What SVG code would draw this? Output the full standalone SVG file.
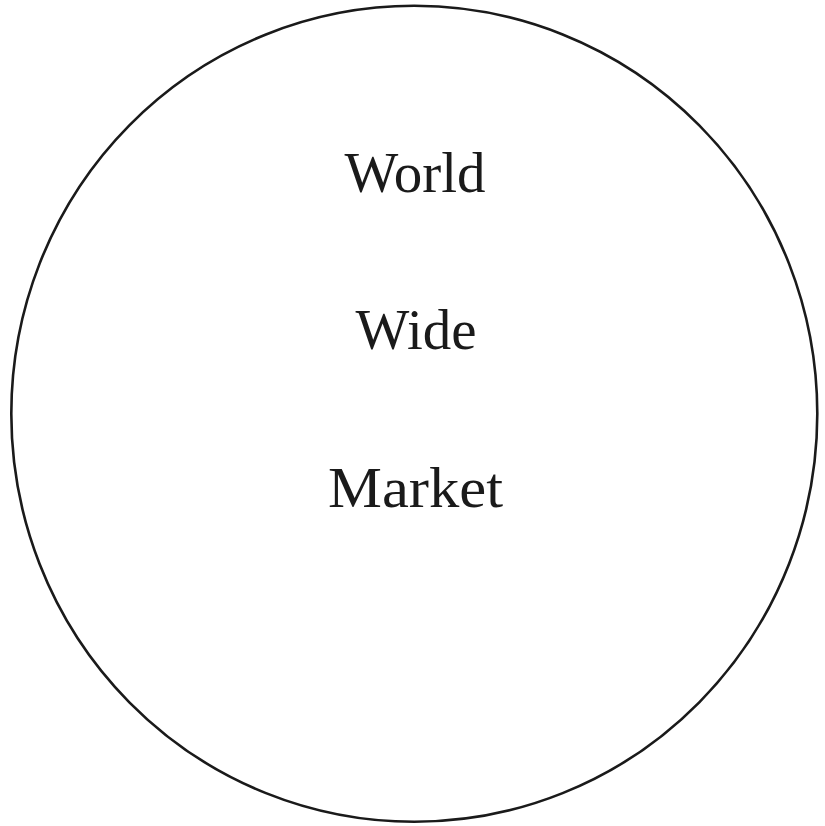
<svg xmlns="http://www.w3.org/2000/svg" width="825" height="826" viewBox="0 0 825 826">
<style>
.t{font-family:"Liberation Serif","DejaVu Serif",serif;font-size:57px;fill:#1a1a1a;text-anchor:middle}
</style>
<rect width="825" height="826" fill="#fff"/>
<g id="circle">
<ellipse cx="414.3" cy="413.8" rx="403" ry="408" fill="none" stroke="#1a1a1a" stroke-width="2.6"/>
<text class="t" x="415" y="192">World</text>
<text class="t" x="416" y="349">Wide</text>
<text class="t" x="415.5" y="507" textLength="175" lengthAdjust="spacingAndGlyphs">Market</text>
</g>
</svg>
